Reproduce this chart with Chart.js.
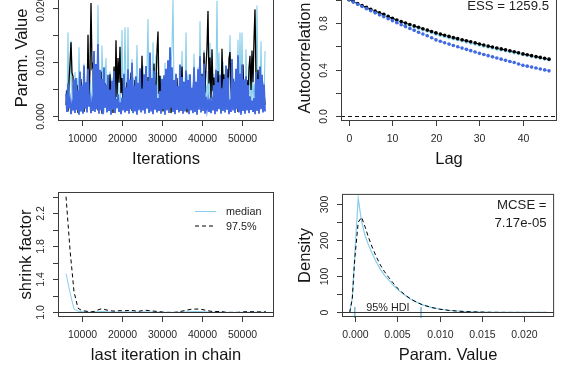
<!DOCTYPE html>
<html>
<head>
<meta charset="utf-8">
<script src="https://cdn.jsdelivr.net/npm/chart.js@4.4.1/dist/chart.umd.min.js"></script>
<style>
  body { margin: 0; background: #fff; width: 561px; height: 374px; overflow: hidden; position: relative; }
  canvas { position: absolute; }
</style>
</head>
<body>
<canvas id="trace" width="280" height="197" style="left:0;top:-10px"></canvas>
<canvas id="acf" width="281" height="197" style="left:280px;top:-10px"></canvas>
<canvas id="gelman" width="280" height="197" style="left:0;top:187px"></canvas>
<canvas id="dens" width="281" height="197" style="left:280px;top:187px"></canvas>
<script>
// ---------- trace plot (3 chains, one kept sample every 250 iterations) ----------
const traceStart = 6000, traceStep = 250;
const traceSky = [
  .0048,.0012,.0155,.0031,.0067,.0140,.0022,.0058,.0009,.0082,
  .0037,.0071,.0015,.0128,.0044,.0008,.0062,.0026,.0098,.0019,
  .0053,.0011,.0121,.0035,.0068,.0017,.0046,.0084,.0028,.0075,
  .0013,.0059,.0206,.0032,.0084,.0021,.0131,.0042,.0007,.0066,
  .0108,.0025,.0049,.0014,.0083,.0038,.0072,.0019,.0057,.0010,
  .0074,.0027,.0086,.0043,.0012,.0065,.0160,.0033,.0051,.0165,
  .0046,.0018,.0165,.0029,.0061,.0014,.0106,.0039,.0072,.0022,
  .0055,.0132,.0036,.0010,.0077,.0030,.0048,.0094,.0016,.0063,
  .0041,.0089,.0180,.0021,.0069,.0045,.0008,.0137,.0028,.0052,
  .0114,.0039,.0082,.0016,.0058,.0075,.0024,.0071,.0011,.0099,
  .0034,.0060,.0083,.0019,.0047,.0089,.0126,.0216,.0047,.0013,
  .0072,.0029,.0054,.0036,.0095,.0017,.0121,.0042,.0065,.0025,
  .0155,.0033,.0078,.0011,.0068,.0038,.0049,.0020,.0116,.0044,
  .0063,.0027,.0091,.0015,.0176,.0032,.0056,.0040,.0123,.0018,
  .0059,.0035,.0084,.0022,.0136,.0010,.0067,.0043,.0079,.0026,
  .0077,.0214,.0038,.0118,.0016,.0054,.0030,.0101,.0045,.0073,
  .0021,.0083,.0037,.0062,.0150,.0024,.0096,.0041,.0071,.0012,
  .0058,.0034,.0142,.0019,.0155,.0028,.0155,.0046,.0069,.0015,
  .0124,.0032,.0058,.0040,.0097,.0017,.0085,.0027,.0061,.0036,
  .0078,.0205,.0044,.0082,.0022,.0139,.0031,.0064,.0018,.0121
];
const traceBlack = [
  .0021,.0048,.0009,.0066,.0098,.0137,.0081,.0074,.0012,.0039,
  .0027,.0058,.0006,.0044,.0015,.0069,.0023,.0051,.0008,.0036,
  .0062,.0019,.0151,.0034,.0088,.0210,.0091,.0097,.0013,.0057,
  .0024,.0072,.0011,.0046,.0028,.0083,.0005,.0039,.0017,.0061,
  .0032,.0009,.0054,.0021,.0078,.0014,.0047,.0006,.0092,.0025,
  .0141,.0036,.0108,.0062,.0129,.0043,.0071,.0018,.0055,.0008,
  .0038,.0063,.0015,.0049,.0026,.0081,.0010,.0044,.0020,.0067,
  .0029,.0007,.0052,.0016,.0039,.0023,.0112,.0034,.0058,.0011,
  .0045,.0019,.0073,.0008,.0037,.0026,.0064,.0013,.0098,.0030,
  .0056,.0121,.0157,.0042,.0075,.0017,.0033,.0009,.0061,.0022,
  .0048,.0014,.0069,.0031,.0086,.0006,.0041,.0024,.0057,.0012,
  .0035,.0071,.0018,.0053,.0010,.0044,.0092,.0027,.0063,.0015,
  .0039,.0007,.0058,.0021,.0076,.0012,.0046,.0030,.0083,.0018,
  .0052,.0009,.0067,.0025,.0101,.0038,.0079,.0016,.0118,.0044,
  .0093,.0127,.0195,.0061,.0109,.0033,.0124,.0047,.0072,.0019,
  .0058,.0011,.0084,.0036,.0066,.0022,.0125,.0049,.0078,.0014,
  .0043,.0088,.0027,.0107,.0119,.0052,.0031,.0069,.0013,.0046,
  .0024,.0061,.0008,.0037,.0073,.0019,.0054,.0096,.0028,.0042,
  .0015,.0067,.0035,.0089,.0112,.0049,.0122,.0063,.0141,.0198,
  .0074,.0029,.0086,.0017,.0055,.0033,.0068,.0011,.0047,.0021
];
const traceRoyal = [
  .0042,.0008,.0061,.0015,.0029,.0004,.0022,.0011,.0068,.0006,
  .0071,.0012,.0048,.0003,.0083,.0009,.0057,.0005,.0094,.0014,
  .0063,.0007,.0088,.0018,.0031,.0006,.0025,.0010,.0121,.0008,
  .0097,.0013,.0134,.0005,.0086,.0011,.0069,.0004,.0091,.0016,
  .0058,.0007,.0077,.0010,.0049,.0003,.0066,.0012,.0084,.0006,
  .0032,.0015,.0041,.0008,.0026,.0004,.0035,.0011,.0079,.0007,
  .0054,.0010,.0087,.0005,.0068,.0013,.0099,.0006,.0057,.0009,
  .0074,.0003,.0062,.0012,.0089,.0007,.0051,.0011,.0078,.0005,
  .0093,.0014,.0066,.0006,.0118,.0009,.0071,.0004,.0085,.0012,
  .0059,.0007,.0034,.0010,.0047,.0005,.0069,.0013,.0076,.0003,
  .0088,.0011,.0104,.0006,.0128,.0015,.0091,.0008,.0067,.0004,
  .0079,.0012,.0056,.0007,.0096,.0010,.0073,.0005,.0062,.0009,
  .0085,.0013,.0067,.0004,.0078,.0011,.0053,.0006,.0091,.0008,
  .0064,.0003,.0087,.0012,.0111,.0007,.0075,.0010,.0098,.0005,
  .0036,.0014,.0029,.0008,.0033,.0006,.0027,.0011,.0058,.0004,
  .0086,.0009,.0063,.0013,.0077,.0005,.0052,.0010,.0069,.0007,
  .0094,.0012,.0072,.0004,.0031,.0008,.0106,.0011,.0065,.0006,
  .0088,.0013,.0113,.0007,.0079,.0003,.0096,.0010,.0068,.0005,
  .0074,.0011,.0058,.0006,.0037,.0012,.0029,.0008,.0034,.0004,
  .0082,.0010,.0069,.0005,.0092,.0013,.0077,.0007,.0059,.0009
];
const traceXTicks = [10000, 20000, 30000, 40000, 50000];
const traceXLabels = ['10000', '20000', '30000', '40000', '50000'];
const traceYTicks = [0, 0.005, 0.010, 0.015, 0.020];
const traceYLabels = ['0.000', '', '0.010', '', '0.020'];

// ---------- autocorrelation, lags 0..46 ----------
const acfSky = [
  1.000,0.982,0.964,0.947,0.930,0.914,0.898,0.883,0.868,0.852,
  0.836,0.822,0.808,0.794,0.781,0.768,0.755,0.743,0.731,0.718,
  0.705,0.695,0.685,0.675,0.665,0.656,0.647,0.638,0.629,0.620,
  0.611,0.602,0.594,0.586,0.578,0.570,0.562,0.554,0.546,0.538,
  0.530,0.523,0.515,0.507,0.500,0.492,0.485
];
const acfBlack = [
  1.000,0.983,0.966,0.950,0.934,0.918,0.903,0.888,0.874,0.857,
  0.840,0.826,0.813,0.800,0.787,0.775,0.763,0.751,0.739,0.727,
  0.715,0.705,0.695,0.685,0.675,0.666,0.657,0.648,0.639,0.630,
  0.620,0.611,0.602,0.594,0.586,0.578,0.570,0.562,0.554,0.545,
  0.535,0.528,0.520,0.512,0.505,0.497,0.490
];
const acfRoyal = [
  1.000,0.980,0.961,0.942,0.923,0.905,0.887,0.870,0.853,0.836,
  0.820,0.803,0.786,0.769,0.753,0.737,0.721,0.706,0.691,0.673,
  0.655,0.643,0.631,0.619,0.607,0.596,0.585,0.574,0.563,0.552,
  0.540,0.530,0.520,0.510,0.500,0.490,0.480,0.470,0.461,0.449,
  0.437,0.430,0.422,0.414,0.406,0.398,0.390
];
const acfXTicks = [0, 10, 20, 30, 40];
const acfXLabels = ['0', '10', '20', '30', '40'];
const acfYTicks = [0, 0.2, 0.4, 0.6, 0.8, 1.0];
const acfYLabels = ['0.0', '', '0.4', '', '0.8', ''];
const essValue = '1259.5';

// ---------- gelman shrink factor, one bin every 1000 iterations ----------
const gelmanStart = 6000, gelmanStep = 1000;
const gelmanMedian = [
  1.47,1.24,1.04,1.015,1.008,1.006,1.002,1.004,1.008,1.012,
  1.008,1.005,1.004,1.005,1.005,1.005,1.006,1.005,1.003,1.005,
  1.006,1.005,1.004,1.003,1.001,1.000,1.000,1.000,1.001,1.004,
  1.006,1.008,1.010,1.010,1.008,1.006,1.004,1.003,1.003,1.003,
  1.000,1.000,1.000,1.000,1.001,1.002,1.002,1.002,1.002,1.002,1.002
];
const gelman975 = [
  2.40,1.76,1.25,1.05,1.02,1.015,1.005,1.01,1.03,1.045,
  1.03,1.02,1.015,1.02,1.02,1.02,1.025,1.02,1.012,1.02,
  1.025,1.02,1.015,1.01,1.005,1.000,1.000,1.000,1.005,1.015,
  1.025,1.035,1.04,1.04,1.035,1.025,1.015,1.01,1.01,1.01,
  1.000,1.000,1.000,1.000,1.005,1.008,1.008,1.008,1.006,1.006,1.006
];
const gelmanXTicks = traceXTicks;
const gelmanXLabels = traceXLabels;
const gelmanYTicks = [1.0, 1.2, 1.4, 1.6, 1.8, 2.0, 2.2, 2.4];
const gelmanYLabels = ['1.0', '', '1.4', '', '1.8', '', '2.2', ''];

// ---------- posterior density per chain ----------
const densX = [
  -0.0006,-0.0003,0,0.0004,0.0008,0.0012,0.0016,0.002,0.0025,0.003,
  0.0035,0.004,0.0045,0.005,0.0055,0.006,0.0065,0.007,0.0075,0.008,
  0.009,0.010,0.011,0.012,0.013,0.014,0.015,0.016,0.018,0.020,0.0226
];
const densSky = [
  0,40,162,316,252,214,188,166,141,120,
  103,90,76,65,55,46,38,32,26,21,
  14,9.5,6,4,2.5,1.5,1,0.5,0.2,0.05,0
];
const densBlack = [
  0,38,150,250,264,238,209,184,156,132,
  113,97,82,68,57,47,39,32,26,21,
  14,9,6,4,2.5,1.6,1,0.4,0.1,0,0
];
const hdiSky = [0.0000, 0.0078];
const densXTicks = [0, 0.005, 0.010, 0.015, 0.020];
const densXLabels = ['0.000', '0.005', '0.010', '0.015', '0.020'];
const densYTicks = [0, 50, 100, 150, 200, 250, 300];
const densYLabels = ['0', '', '100', '', '200', '', '300'];
const mcseText = '7.17e-05';

// ---------- drawing ----------
const FONT = '"Liberation Sans", Arial, sans-serif';
const SKY = '#87CEEB', BLACK = '#000000', ROYAL = '#4169E1';

function seq(start, step, n) {
  return Array.from({ length: n }, (_, i) => start + i * step);
}
function pts(xs, ys) {
  return ys.map((v, i) => ({ x: xs[i], y: v }));
}

// R style box, ticks, rotated y labels and axis titles
function rFrame(ax) {
  return {
    id: 'rFrame',
    afterDatasetsDraw(chart) {
      const ctx = chart.ctx, a = chart.chartArea;
      const xs = chart.scales.x, ys = chart.scales.y;
      ctx.save();
      if (ax.hline) {
        const py = Math.round(ys.getPixelForValue(ax.hline.y)) + 0.5;
        ctx.strokeStyle = ax.hline.color;
        ctx.lineWidth = 1;
        ctx.setLineDash(ax.hline.dash);
        ctx.beginPath(); ctx.moveTo(a.left, py); ctx.lineTo(a.right, py); ctx.stroke();
        ctx.setLineDash([]);
      }
      ctx.strokeStyle = '#3c3c3c';
      ctx.lineWidth = 1;
      ctx.strokeRect(a.left + 0.5, a.top + 0.5, a.right - a.left - 1, a.bottom - a.top - 1);

      ctx.font = '10.5px ' + FONT;
      ctx.fillStyle = '#2a2a2a';
      ctx.textAlign = 'center';
      ctx.textBaseline = 'middle';
      ax.xTicks.forEach((v, i) => {
        const px = Math.round(xs.getPixelForValue(v)) + 0.5;
        ctx.beginPath(); ctx.moveTo(px, a.bottom); ctx.lineTo(px, a.bottom + 5); ctx.stroke();
        if (ax.xLabels[i]) ctx.fillText(ax.xLabels[i], px, a.bottom + 18);
      });
      ax.yTicks.forEach((v, i) => {
        const py = Math.round(ys.getPixelForValue(v)) + 0.5;
        ctx.beginPath(); ctx.moveTo(a.left, py); ctx.lineTo(a.left - 5, py); ctx.stroke();
        if (ax.yLabels[i]) {
          ctx.save();
          ctx.translate(a.left - 17, py);
          ctx.rotate(-Math.PI / 2);
          ctx.fillText(ax.yLabels[i], 0, 0);
          ctx.restore();
        }
      });

      ctx.font = '16.5px ' + FONT;
      ctx.fillStyle = '#151515';
      ctx.textBaseline = 'alphabetic';
      ctx.fillText(ax.xTitle, (a.left + a.right) / 2, a.bottom + 43);
      ctx.save();
      ctx.translate(a.left - ax.yTitleGap, (a.top + a.bottom) / 2);
      ctx.rotate(-Math.PI / 2);
      ctx.fillText(ax.yTitle, 0, 0);
      ctx.restore();

      if (ax.extra) ax.extra(ctx, a, xs, ys, chart);
      ctx.restore();
    }
  };
}

function panel(id, pad, xr, yr, datasets, ax) {
  return new Chart(document.getElementById(id), {
    type: 'line',
    data: { datasets: datasets },
    options: {
      responsive: false,
      animation: false,
      events: [],
      layout: { padding: pad },
      plugins: { legend: { display: false }, tooltip: { enabled: false } },
      elements: {
        point: { radius: 0 },
        line: { borderWidth: 1, tension: 0, fill: false }
      },
      scales: {
        x: { type: 'linear', display: false, min: xr[0], max: xr[1] },
        y: { type: 'linear', display: false, min: yr[0], max: yr[1] }
      }
    },
    plugins: [rFrame(ax)]
  });
}

// trace plot
const traceIter = seq(traceStart, traceStep, traceSky.length);
panel('trace', { left: 58, right: 6, top: 5, bottom: 66 }, [4000, 58000], [-0.000864, 0.022464], [
  { label: 'chain 1', data: pts(traceIter, traceSky), borderColor: SKY, borderWidth: 1.1, order: 3 },
  { label: 'chain 2', data: pts(traceIter, traceBlack), borderColor: BLACK, borderWidth: 1.3, order: 2 },
  { label: 'chain 3', data: pts(traceIter, traceRoyal), borderColor: ROYAL, borderWidth: 1.8, order: 1 }
], {
  xTicks: traceXTicks, xLabels: traceXLabels, yTicks: traceYTicks, yLabels: traceYLabels,
  xTitle: 'Iterations', yTitle: 'Param. Value', yTitleGap: 31
});

// autocorrelation
const lags = seq(0, 1, acfBlack.length);
function acfSet(label, vals, color, dash, order) {
  return {
    label: label, data: pts(lags, vals), borderColor: color, borderDash: dash, order: order,
    pointRadius: 1.8, pointBackgroundColor: color, pointBorderWidth: 0
  };
}
panel('acf', { left: 61, right: 4, top: 5, bottom: 66 }, [-1.84, 47.84], [-0.04, 1.04], [
  acfSet('chain 1', acfSky, SKY, [], 3),
  acfSet('chain 2', acfBlack, BLACK, [4, 3], 2),
  acfSet('chain 3', acfRoyal, ROYAL, [1, 2], 1)
], {
  xTicks: acfXTicks, xLabels: acfXLabels, yTicks: acfYTicks, yLabels: acfYLabels,
  xTitle: 'Lag', yTitle: 'Autocorrelation', yTitleGap: 31,
  hline: { y: 0, color: '#111', dash: [4, 3] },
  extra(ctx, a, xs, ys) {
    ctx.font = '13.2px ' + FONT;
    ctx.fillStyle = '#1e1e1e';
    ctx.textAlign = 'right';
    ctx.textBaseline = 'top';
    ctx.fillText('ESS = ' + essValue, xs.getPixelForValue(lags[lags.length - 1]),
      ys.getPixelForValue(Math.max(...acfBlack)));
  }
});

// gelman-rubin shrink factor
const gelmanIter = seq(gelmanStart, gelmanStep, gelmanMedian.length);
panel('gelman', { left: 58, right: 6, top: 5, bottom: 67 }, [4000, 58000], [0.944, 2.456], [
  { label: 'median', data: pts(gelmanIter, gelmanMedian), borderColor: SKY, order: 2 },
  { label: '97.5%', data: pts(gelmanIter, gelman975), borderColor: BLACK, borderDash: [4, 3], order: 1 }
], {
  xTicks: gelmanXTicks, xLabels: gelmanXLabels, yTicks: gelmanYTicks, yLabels: gelmanYLabels,
  xTitle: 'last iteration in chain', yTitle: 'shrink factor', yTitleGap: 27,
  hline: { y: 1, color: '#333', dash: [] },
  extra(ctx, a, xs, ys, chart) {
    ctx.font = '10.8px ' + FONT;
    ctx.fillStyle = '#1e1e1e';
    ctx.textAlign = 'left';
    ctx.textBaseline = 'middle';
    chart.data.datasets.forEach((d, i) => {
      const yy = a.top + 19.5 + i * 14.5;
      ctx.strokeStyle = d.borderColor;
      ctx.setLineDash(d.borderDash || []);
      ctx.beginPath(); ctx.moveTo(a.right - 79, yy); ctx.lineTo(a.right - 58, yy); ctx.stroke();
      ctx.setLineDash([]);
      ctx.fillText(d.label, a.right - 48, yy + 1);
    });
  }
});

// density
panel('dens', { left: 62, right: 4, top: 5, bottom: 67 }, [-0.00151, 0.02349], [-12.64, 328.64], [
  { label: 'chain 1', data: pts(densX, densSky), borderColor: SKY, borderWidth: 1.2, order: 2 },
  { label: 'chain 2', data: pts(densX, densBlack), borderColor: BLACK, borderDash: [4, 3], order: 1 },
  { label: 'HDI', data: hdiSky.map(v => ({ x: v, y: 0 })), showLine: false, clip: false, order: 0,
    pointStyle: 'line', pointRotation: 90, pointRadius: 5.5,
    pointBorderColor: '#6fb0d4', pointBorderWidth: 1.4 }
], {
  xTicks: densXTicks, xLabels: densXLabels, yTicks: densYTicks, yLabels: densYLabels,
  xTitle: 'Param. Value', yTitle: 'Density', yTitleGap: 32,
  hline: { y: 0, color: '#333', dash: [] },
  extra(ctx, a, xs, ys) {
    ctx.font = '13.2px ' + FONT;
    ctx.fillStyle = '#1e1e1e';
    ctx.textAlign = 'right';
    ctx.textBaseline = 'top';
    const xr = xs.getPixelForValue(densX[densX.length - 1]);
    const yt = ys.getPixelForValue(Math.max(...densSky, ...densBlack));
    ctx.fillText('MCSE =', xr, yt);
    ctx.fillText(mcseText, xr, yt + 18);
    ctx.font = '10.8px ' + FONT;
    ctx.textAlign = 'center';
    ctx.textBaseline = 'alphabetic';
    ctx.fillText('95% HDI', xs.getPixelForValue((hdiSky[0] + hdiSky[1]) / 2), ys.getPixelForValue(0) - 1.5);
  }
});
</script>
</body>
</html>
